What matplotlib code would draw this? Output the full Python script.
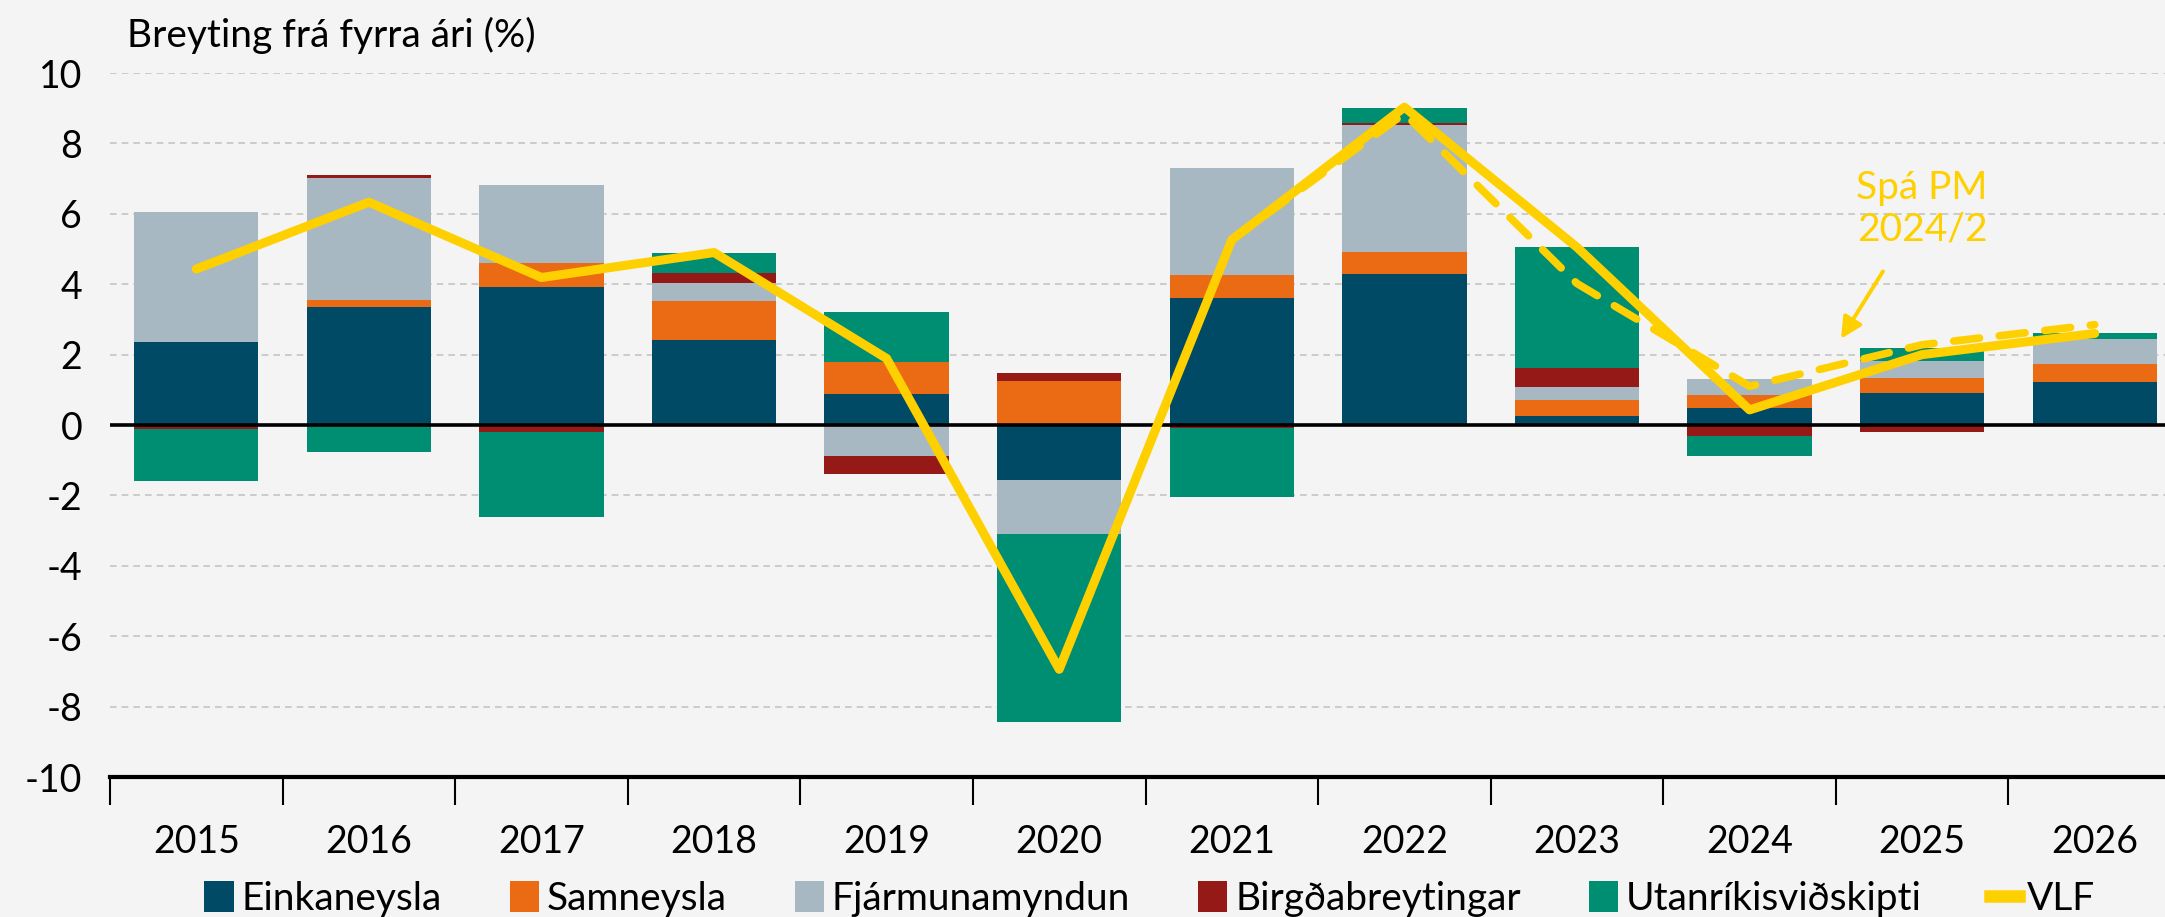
#!/usr/bin/env python3
import numpy as np
import matplotlib
matplotlib.use("Agg")
import matplotlib.pyplot as plt
from matplotlib.patches import Patch
from matplotlib.lines import Line2D

plt.rcParams['font.family'] = ['Lato', 'DejaVu Sans']

years = ["2015", "2016", "2017", "2018", "2019", "2020",
         "2021", "2022", "2023", "2024", "2025", "2026"]

# contributions (percentage points)
einkaneysla = [2.35, 3.35, 3.92, 2.42, 0.87, -1.57, 3.60, 4.28, 0.25, 0.48, 0.92, 1.21]
samneysla = [0.00, 0.19, 0.68, 1.11, 0.93, 1.24, 0.65, 0.64, 0.45, 0.38, 0.42, 0.51]
fjarmunamyndun = [3.69, 3.49, 2.21, 0.51, -0.89, -1.54, 3.04, 3.61, 0.38, 0.44, 0.48, 0.71]
birgdabreytingar = [-0.10, 0.08, -0.19, 0.27, -0.49, 0.23, -0.08, 0.04, 0.55, -0.30, -0.20, 0.00]
utanrikisvidskipti = [-1.48, -0.76, -2.41, 0.57, 1.40, -5.34, -1.97, 0.44, 3.42, -0.58, 0.38, 0.17]

vlf = [4.43, 6.33, 4.19, 4.90, 1.89, -6.94, 5.26, 9.03, 5.05, 0.43, 2.00, 2.60]
pm_years = [5, 6, 7, 8, 9, 10, 11]
spa_pm = [-6.94, 5.26, 8.85, 4.02, 1.10, 2.28, 2.85]

series = [
    ("Einkaneysla", einkaneysla, "#004A66"),
    ("Samneysla", samneysla, "#EB6B14"),
    ("Fjármunamyndun", fjarmunamyndun, "#A7B8C2"),
    ("Birgðabreytingar", birgdabreytingar, "#951917"),
    ("Utanríkisviðskipti", utanrikisvidskipti, "#008E72"),
]
yellow = "#FFD000"
bg = "#F4F4F4"

fig = plt.figure(figsize=(21.65, 9.17), dpi=100, facecolor=bg)
ax = fig.add_axes([110 / 2165, 140 / 917, 2071 / 2165, 704 / 917], facecolor=bg)

x = np.arange(len(years))
pos = np.zeros(len(years))
neg = np.zeros(len(years))
for name, vals, col in series:
    v = np.array(vals)
    bottom = np.where(v >= 0, pos, neg)
    ax.bar(x, v, 0.72, bottom=bottom, color=col, edgecolor="none", zorder=2)
    pos = pos + np.where(v >= 0, v, 0)
    neg = neg + np.where(v < 0, v, 0)

ax.plot(x, vlf, color=yellow, lw=6.5, solid_capstyle="round", solid_joinstyle="round", zorder=4)
ax.plot(pm_years, spa_pm, color=yellow, lw=5.5, dashes=(3.4, 2.6), dash_capstyle="round", zorder=3)

ax.annotate("Spá PM\n2024/2", xy=(9.53, 2.45), xytext=(10.0, 6.15),
            ha="center", va="center", color=yellow, fontsize=28, linespacing=1.2,
            arrowprops=dict(arrowstyle="-|>", color=yellow, lw=2.8, mutation_scale=32,
                            shrinkA=18, shrinkB=0))

ax.set_xlim(-0.5, 11.5)
ax.set_ylim(-10, 10)
ax.set_yticks(np.arange(-10, 11, 2))
ax.set_yticklabels([str(t) for t in range(-10, 11, 2)], fontsize=27)
for t in range(-8, 11, 2):
    if t != 0:
        ax.axhline(t, color="#C5C5C5", lw=1.2, ls=(0, (4, 3)), zorder=1)
ax.axhline(0, color="black", lw=2.6, zorder=3)

ax.set_xticks(np.arange(-0.5, 12, 1))
ax.set_xticklabels([])
ax.set_xticks(x, minor=True)
ax.set_xticklabels(years, minor=True, fontsize=27)
ax.tick_params(axis="x", which="major", length=20, width=1.5, direction="out")
ax.tick_params(axis="x", which="minor", length=0, pad=34)
ax.tick_params(axis="y", length=0, pad=20)

for s in ["top", "right", "left"]:
    ax.spines[s].set_visible(False)
ax.spines["bottom"].set_linewidth(3)

fig.text(127 / 2165, 1 - 35 / 917, "Breyting frá fyrra ári (%)", fontsize=28, va="center", ha="left")

handles = [Patch(facecolor=c, label=n) for n, _, c in series]
handles.append(Line2D([0], [0], color=yellow, lw=9, label="VLF"))
fig.legend(handles=handles, loc="center", bbox_to_anchor=(0.531, 1 - 899 / 917), ncol=6,
           frameon=False, fontsize=28, handlelength=0.75, handleheight=0.85,
           handletextpad=0.2, columnspacing=1.75)

fig.savefig("out.png", dpi=100, facecolor=bg)
